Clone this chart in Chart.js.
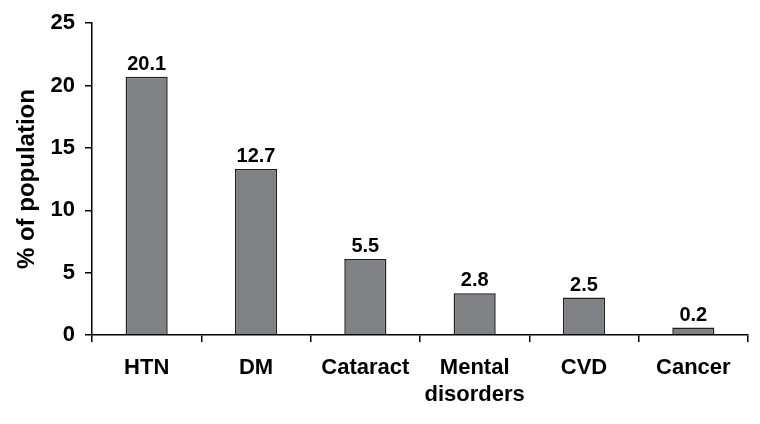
<!DOCTYPE html>
<html>
<head>
<meta charset="utf-8">
<script src="https://cdn.jsdelivr.net/npm/chart.js@4/dist/chart.umd.min.js"></script>
<style>
  body { margin: 0; background: #fff; }
  canvas { display: block; }
</style>
</head>
<body>
<canvas id="conditionsChart" width="760" height="424"></canvas>
<script>
// Categories and values
const categories = ["HTN", "DM", "Cataract", ["Mental", "disorders"], "CVD", "Cancer"];
// bar heights as drawn in the figure (they sit a little above the printed numbers)
const barHeights = [20.7, 13.3, 6.1, 3.35, 3.0, 0.6];
// numbers printed above the bars
const valueLabels = ["20.1", "12.7", "5.5", "2.8", "2.5", "0.2"];
const yTicks = [0, 5, 10, 15, 20, 25];

const fontFamily = "'Liberation Sans', Arial, Helvetica, sans-serif";

// Draws the printed number above each bar
const valueLabelPlugin = {
  id: "valueLabels",
  afterDatasetsDraw(chart) {
    const ctx = chart.ctx;
    const meta = chart.getDatasetMeta(0);
    ctx.save();
    ctx.font = "bold 20px " + fontFamily;
    ctx.fillStyle = "#000";
    ctx.textAlign = "center";
    ctx.textBaseline = "alphabetic";
    meta.data.forEach((bar, i) => {
      ctx.fillText(valueLabels[i], bar.x, bar.y - 7);
    });
    ctx.restore();
  }
};

const ctx = document.getElementById("conditionsChart").getContext("2d");
new Chart(ctx, {
  type: "bar",
  data: {
    labels: categories,
    datasets: [
      {
        data: barHeights,
        backgroundColor: "#808185",
        borderColor: "#1e1e1e",
        borderWidth: 1.5,
        categoryPercentage: 1,
        barPercentage: 0.385
      }
    ]
  },
  options: {
    responsive: false,
    animation: false,
    layout: {
      padding: { top: 21, right: 12, left: 0, bottom: 0 }
    },
    plugins: {
      legend: { display: false },
      tooltip: { enabled: false }
    },
    scales: {
      x: {
        offset: true,
        grid: {
          display: true,
          offset: true,
          drawOnChartArea: false,
          drawTicks: true,
          tickLength: 7,
          color: "#000",
          lineWidth: 1.5
        },
        border: { color: "#000", width: 1.5 },
        ticks: {
          color: "#000",
          padding: 12,
          maxRotation: 0,
          autoSkip: false,
          font: { family: fontFamily, size: 22, weight: "bold", lineHeight: 1.25 }
        },
        afterFit(scale) {
          scale.height = 89;
        }
      },
      y: {
        min: 0,
        max: 25,
        afterBuildTicks(scale) {
          scale.ticks = yTicks.map(v => ({ value: v }));
        },
        grid: {
          display: true,
          drawOnChartArea: false,
          drawTicks: true,
          tickLength: 7,
          color: "#000",
          lineWidth: 1.5
        },
        border: { color: "#000", width: 1.5 },
        ticks: {
          color: "#000",
          padding: 10,
          font: { family: fontFamily, size: 22, weight: "bold" }
        },
        title: {
          display: true,
          text: "% of population",
          color: "#000",
          padding: { top: 13, bottom: 0 },
          font: { family: fontFamily, size: 24, weight: "bold" }
        },
        afterFit(scale) {
          scale.width = 92;
        }
      }
    }
  },
  plugins: [valueLabelPlugin]
});
</script>
</body>
</html>
